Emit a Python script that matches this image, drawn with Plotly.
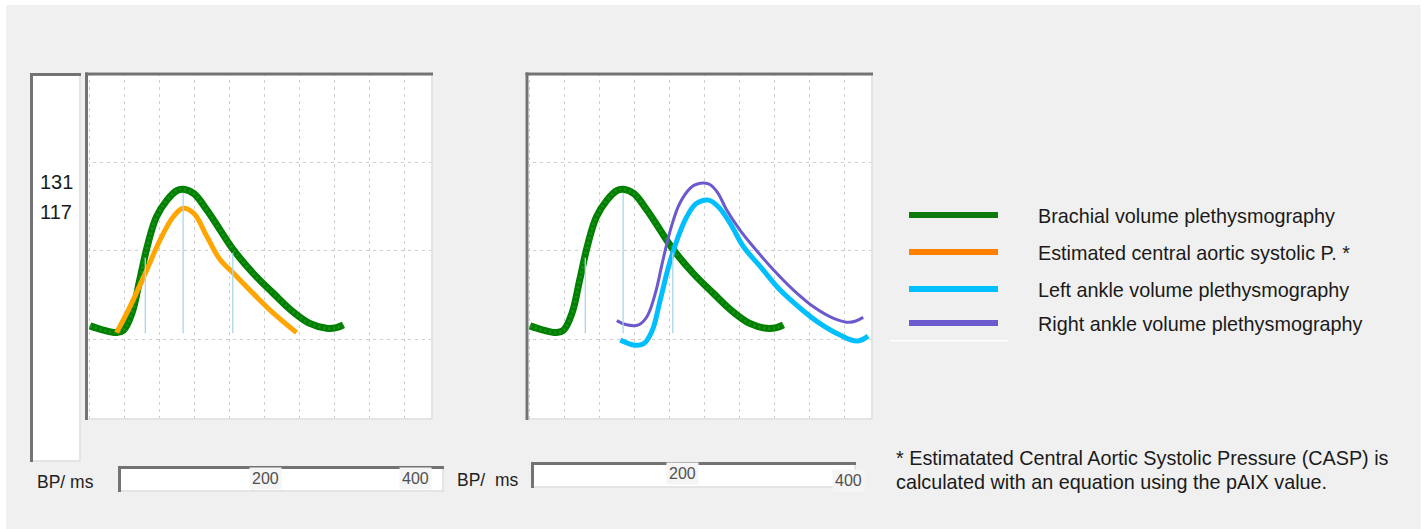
import plotly.graph_objects as go

W, H = 1423, 529

# ---------------- data (time in ms, amplitude in arbitrary units; grid = 50 ms x 25 units)
brachial_t = [1, 20, 39, 49, 61, 72, 84, 96, 111, 125, 134, 149, 168, 187, 206, 234, 263, 291, 315, 339, 353, 363]
brachial_v = [3.8, 2.6, 1.9, 2.6, 7.4, 16.8, 27.2, 34.7, 39.4, 42.1, 42.5, 41.3, 36.6, 30.9, 25.3, 18.7, 13.0, 7.8, 4.5, 3.1, 3.3, 4.1]

casp_t = [39, 58, 80, 101, 120, 134, 149, 168, 187, 206, 234, 263, 296]
casp_v = [1.9, 9.2, 18.7, 28.1, 34.7, 37.1, 35.7, 29.1, 22.5, 18.7, 13.0, 7.4, 1.9]

right_ankle_t = [125, 139, 156, 168, 180, 191, 203, 215, 230, 239, 256, 268, 282, 301, 320, 349, 377, 406, 434, 458, 477]
right_ankle_v = [5.3, 4.1, 4.1, 6.4, 13.0, 22.5, 31.9, 38.5, 42.8, 43.9, 44.0, 41.8, 36.6, 30.9, 26.2, 19.6, 14.0, 9.2, 6.0, 4.8, 6.2]

left_ankle_t = [130, 149, 163, 175, 187, 199, 211, 225, 239, 256, 270, 287, 306, 330, 358, 387, 415, 444, 468, 484]
left_ankle_v = [-0.2, -1.6, -1.3, 2.2, 11.1, 20.6, 28.1, 34.7, 38.5, 39.4, 37.5, 32.8, 26.2, 20.6, 14.0, 8.8, 4.5, 1.2, -0.5, 0.9]

marker_t = [80, 134, 205]
marker_top = [23.0, 41.4, 24.5]
marker_base = 1.7

pressure_labels = ["131", "117"]
scale_ticks = [200, 400]
scale_unit = "BP/ ms"

legend_names = ["Brachial volume plethysmography",
                "Estimated central aortic systolic P. *",
                "Left ankle volume plethysmography",
                "Right ankle volume plethysmography"]
footnote = ["* Estimatated Central Aortic Systolic Pressure (CASP) is",
            "calculated with an equation using the pAIX value."]

# ---------------- styles
C_GREEN = "#008000"
C_GREEN_DOT = "#1b8f1b"
C_ORANGE = "#ffa500"
C_CYAN = "#00bfff"
C_PURPLE = "#6a5acd"
C_MARK = "#a9d6e8"
LEG_COLORS = ["#0e7a0e", "#ff8000", "#00bfff", "#6a5acd"]
FONT = "Liberation Sans, Arial, sans-serif"
SMOOTH = 1.1


def fx(px):
    return px / W


def fy(py):
    return 1 - py / H


fig = go.Figure()


def curve(t, v, color, width, xa, ya, name, dash=None):
    line = dict(color=color, width=width, shape="spline", smoothing=SMOOTH)
    if dash:
        line["dash"] = dash
    fig.add_trace(go.Scatter(x=t, y=v, mode="lines", name=name, xaxis=xa, yaxis=ya,
                             line=line, hoverinfo="skip", showlegend=False))


def markers(xa, ya):
    xs, ys = [], []
    for t, top in zip(marker_t, marker_top):
        xs += [t, t, None]
        ys += [marker_base, top, None]
    fig.add_trace(go.Scatter(x=xs, y=ys, mode="lines", xaxis=xa, yaxis=ya,
                             line=dict(color=C_MARK, width=1.3), hoverinfo="skip", showlegend=False))


# left plot
curve(brachial_t, brachial_v, C_GREEN, 7, "x", "y", legend_names[0])
curve(brachial_t, brachial_v, C_GREEN_DOT, 3, "x", "y", legend_names[0], dash="2px,3px")
curve(casp_t, casp_v, C_ORANGE, 5, "x", "y", legend_names[1])
markers("x", "y")
# right plot
curve(brachial_t, brachial_v, C_GREEN, 7, "x2", "y2", legend_names[0])
curve(brachial_t, brachial_v, C_GREEN_DOT, 3, "x2", "y2", legend_names[0], dash="2px,3px")
curve(left_ankle_t, left_ankle_v, C_CYAN, 5, "x2", "y2", legend_names[2])
curve(right_ankle_t, right_ankle_v, C_PURPLE, 3, "x2", "y2", legend_names[3])
markers("x2", "y2")
# scale boxes (empty traces to instantiate axes)
fig.add_trace(go.Scatter(x=[None], y=[None], xaxis="x3", yaxis="y3", showlegend=False))
fig.add_trace(go.Scatter(x=[None], y=[None], xaxis="x4", yaxis="y4", showlegend=False))

# ---------------- axes
XR = [-4.71, 490]
YR = [-22.56, 75.3]
grid = dict(showgrid=True, gridcolor="#cdcdcd", griddash="3px,4px", gridwidth=1,
            showticklabels=False, zeroline=False, showline=False, ticks="", fixedrange=True)

layout_axes = dict(
    xaxis=dict(domain=[fx(86), fx(432.3)], range=XR, dtick=50, tick0=0, anchor="y", **grid),
    yaxis=dict(domain=[fy(419), fy(73.3)], range=YR, dtick=25, tick0=0, anchor="x", **grid),
    xaxis2=dict(domain=[fx(526), fx(872.3)], range=XR, dtick=50, tick0=0, anchor="y2", **grid),
    yaxis2=dict(domain=[fy(419), fy(73.3)], range=YR, dtick=25, tick0=0, anchor="x2", **grid),
    xaxis3=dict(domain=[fx(118.3), fx(443.3)], range=[2.5, 437.9], visible=False, anchor="y3", fixedrange=True),
    yaxis3=dict(domain=[fy(491.7), fy(466)], range=[0, 1], visible=False, anchor="x3", fixedrange=True),
    xaxis4=dict(domain=[fx(531.7), fx(855)], range=[18.6, 408], visible=False, anchor="y4", fixedrange=True),
    yaxis4=dict(domain=[fy(487.7), fy(462.7)], range=[0, 1], visible=False, anchor="x4", fixedrange=True),
)

# ---------------- shapes
shapes = []
# white outer strips
shapes.append(dict(type="rect", xref="paper", yref="paper", x0=0, x1=1, y0=fy(0), y1=fy(5),
                   fillcolor="white", line_width=0, layer="below"))
shapes.append(dict(type="rect", xref="paper", yref="paper", x0=0, x1=fx(6), y0=0, y1=1,
                   fillcolor="white", line_width=0, layer="below"))
shapes.append(dict(type="rect", xref="paper", yref="paper", x0=fx(1420.5), x1=1, y0=0, y1=1,
                   fillcolor="white", line_width=0, layer="below"))


def frame(x0, y0, x1, y1, dark="#737373", light="#e4e4e4"):
    shapes.append(dict(type="rect", xref="paper", yref="paper", x0=fx(x0), x1=fx(x1), y0=fy(y1), y1=fy(y0),
                       fillcolor="white", line_width=0, layer="below"))
    shapes.append(dict(type="line", xref="paper", yref="paper", x0=fx(x0), x1=fx(x1),
                       y0=fy(y1 - 1), y1=fy(y1 - 1), line=dict(color=light, width=2), layer="above"))
    shapes.append(dict(type="line", xref="paper", yref="paper", x0=fx(x1 - 1), x1=fx(x1 - 1),
                       y0=fy(y0), y1=fy(y1), line=dict(color=light, width=2), layer="above"))
    shapes.append(dict(type="line", xref="paper", yref="paper", x0=fx(x0), x1=fx(x1),
                       y0=fy(y0 + 1.5), y1=fy(y0 + 1.5), line=dict(color=dark, width=3), layer="above"))
    shapes.append(dict(type="line", xref="paper", yref="paper", x0=fx(x0 + 1.5), x1=fx(x0 + 1.5),
                       y0=fy(y0), y1=fy(y1), line=dict(color=dark, width=3), layer="above"))


frame(30, 73, 81, 462)
frame(85, 72.5, 433, 420)
frame(525.5, 72.5, 873, 420)
frame(118, 466, 444, 492)
frame(531, 462, 856, 488)

# legend swatches
leg_y = [215, 252, 289, 323]
for col, yy in zip(LEG_COLORS, leg_y):
    shapes.append(dict(type="line", xref="paper", yref="paper", x0=fx(909), x1=fx(998),
                       y0=fy(yy), y1=fy(yy), line=dict(color=col, width=6), layer="above"))
shapes.append(dict(type="line", xref="paper", yref="paper", x0=fx(890), x1=fx(1008),
                   y0=fy(340.7), y1=fy(340.7), line=dict(color="white", width=1.5), layer="above"))

# ---------------- annotations
ann = []


def text(s, x, y, size, color="#1a1a1a", xanchor="left", **kw):
    ann.append(dict(text=s, x=fx(x), y=fy(y), xref="paper", yref="paper", xanchor=xanchor,
                    yanchor="middle", showarrow=False, font=dict(family=FONT, size=size, color=color), **kw))


text(pressure_labels[0], 38, 182, 20)
text(pressure_labels[1], 38, 212, 20)
text(scale_unit, 35, 482, 17.5, color="#222222")
text("BP/\u00a0 ms", 455, 480, 17.5, color="#222222")

for tv in scale_ticks:
    ann.append(dict(text=str(tv), x=tv, y=0.5, xref="x3", yref="y3", xanchor="center", yanchor="middle",
                    showarrow=False, bgcolor="#f5f5f5", borderpad=2,
                    font=dict(family=FONT, size=16, color="#505050")))
right_tick_y = [0.55, 0.3]
for tv, yy in zip(scale_ticks, right_tick_y):
    ann.append(dict(text=str(tv), x=tv, y=yy, xref="x4", yref="y4", xanchor="center", yanchor="middle",
                    showarrow=False, bgcolor="#f5f5f5", borderpad=2,
                    font=dict(family=FONT, size=16, color="#505050")))

for name, yy in zip(legend_names, leg_y):
    text(name, 1036, yy + 0.5, 19.8)

text(footnote[0], 894, 458, 19.8)
text(footnote[1], 894, 482, 19.8)

fig.update_layout(
    width=W, height=H, margin=dict(l=0, r=0, t=0, b=0),
    paper_bgcolor="#f0f0f0", plot_bgcolor="white",
    shapes=shapes, annotations=ann, showlegend=False,
    hovermode=False, dragmode=False,
    **layout_axes,
)

fig.write_html("out.html", config={"displayModeBar": False, "staticPlot": True},
               post_script="document.body.style.margin='0';document.body.style.overflow='hidden';")
